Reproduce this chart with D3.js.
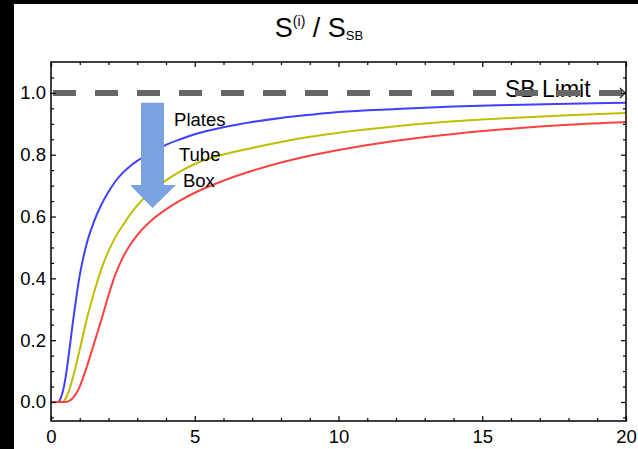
<!DOCTYPE html>
<html><head><meta charset="utf-8">
<script src="https://cdn.jsdelivr.net/npm/d3@7"></script>
<style>body{margin:0;background:#fff}svg{display:block}</style>
</head><body><script>
// ---- data ----
const xValues      = [0, 0.25, 0.3, 0.4, 0.5, 0.6, 0.75, 1, 1.25, 1.5, 1.75, 2, 2.25, 2.5, 2.75, 3, 3.5, 4, 4.5, 5, 6, 7, 8, 9, 10, 12, 14, 16, 18, 20];
const platesValues = [0, 0, 0.005, 0.03, 0.075, 0.14, 0.25, 0.41, 0.515, 0.585, 0.638, 0.68, 0.715, 0.742, 0.763, 0.78, 0.808, 0.832, 0.85, 0.866, 0.889, 0.906, 0.919, 0.929, 0.938, 0.948, 0.956, 0.961, 0.965, 0.968];
const tubeValues   = [0, 0, 0, 0, 0.01, 0.03, 0.075, 0.17, 0.27, 0.355, 0.43, 0.488, 0.535, 0.572, 0.606, 0.636, 0.683, 0.717, 0.746, 0.77, 0.801, 0.822, 0.841, 0.858, 0.871, 0.892, 0.908, 0.919, 0.928, 0.935];
const boxValues    = [0, 0, 0, 0, 0, 0.002, 0.012, 0.05, 0.115, 0.19, 0.265, 0.345, 0.415, 0.468, 0.508, 0.54, 0.588, 0.623, 0.652, 0.677, 0.716, 0.748, 0.775, 0.797, 0.815, 0.845, 0.867, 0.884, 0.897, 0.906];
const seriesNames = ["Plates", "Tube", "Box"];
const xTicks = [0, 5, 10, 15, 20];
const yTicks = [0, 0.2, 0.4, 0.6, 0.8, 1.0];
const limitValue = 1.0;
const limitLabel = "SB Limit";

const series = [
  {name: seriesNames[0], values: platesValues, color: "#4040ff"},
  {name: seriesNames[1], values: tubeValues,   color: "#bfbf00"},
  {name: seriesNames[2], values: boxValues,    color: "#ff4040"}
];

const W = 638, H = 449;
const FONT = "'Liberation Sans', Arial, Helvetica, sans-serif";
const svg = d3.select("body").append("svg").attr("width", W).attr("height", H)
  .style("font-family", FONT);

svg.append("rect").attr("width", W).attr("height", H).attr("fill", "#fff");
svg.append("rect").attr("x", 0).attr("y", 0).attr("width", 14).attr("height", H).attr("fill", "#000");
svg.append("rect").attr("x", 0).attr("y", 0).attr("width", W).attr("height", 4).attr("fill", "#000");

const x = d3.scaleLinear().domain([0, 20]).range([51, 626]);
const y = d3.scaleLinear().domain([-0.0615, 1.1]).range([421, 62]);

// clip
svg.append("clipPath").attr("id", "clip").append("rect")
  .attr("x", x(0)).attr("y", y(1.1)).attr("width", x(20) - x(0)).attr("height", y(-0.0615) - y(1.1));

// title
const title = svg.append("text").attr("x", 319).attr("y", 37).attr("text-anchor", "middle")
  .attr("font-size", 27).attr("fill", "#000");
title.append("tspan").text("S");
title.append("tspan").attr("font-size", 14).attr("dy", -11).text("(i)");
title.append("tspan").attr("dy", 11).text(" / S");
title.append("tspan").attr("font-size", 13).attr("dy", 3).text("SB");

// curves
const line = d3.line().x((d, i) => x(xValues[i])).y(d => y(d)).curve(d3.curveMonotoneX);
const cg = svg.append("g").attr("clip-path", "url(#clip)");
series.forEach(s => {
  cg.append("path").attr("d", line(s.values)).attr("fill", "none")
    .attr("stroke", s.color).attr("stroke-width", 2);
});

// SB limit label (dash drawn over it)
svg.append("text").attr("x", x(15.79)).attr("y", y(0.987)).attr("font-size", 23)
  .attr("fill", "#000").text(limitLabel);

// limit dashed line
svg.append("line").attr("x1", x(0) + 2).attr("x2", x(20) - 4)
  .attr("y1", y(limitValue)).attr("y2", y(limitValue))
  .attr("stroke", "#666").attr("stroke-width", 6).attr("stroke-dasharray", "23,19");
svg.append("path")
  .attr("d", `M${x(20) - 6},${y(limitValue) - 5}L${x(20) - 1},${y(limitValue)}L${x(20) - 6},${y(limitValue) + 5}`)
  .attr("fill", "none").attr("stroke", "#333").attr("stroke-width", 1.5);

// blue arrow (annotation)
const ax0 = 3.13, ax1 = 3.93, ahx0 = 2.75, ahx1 = 4.35, atx = 3.53;
const ay0 = 0.968, ay1 = 0.702, aty = 0.628;
svg.append("path")
  .attr("d", `M${x(ax0)},${y(ay0)}L${x(ax1)},${y(ay0)}L${x(ax1)},${y(ay1)}L${x(ahx1)},${y(ay1)}L${x(atx)},${y(aty)}L${x(ahx0)},${y(ay1)}L${x(ax0)},${y(ay1)}Z`)
  .attr("fill", "#7ba2e0");

// series labels
const labelPos = [[4.28, 0.893], [4.45, 0.78], [4.59, 0.696]];
series.forEach((s, i) => {
  svg.append("text").attr("x", x(labelPos[i][0])).attr("y", y(labelPos[i][1]))
    .attr("font-size", 18.5).attr("fill", "#000").text(s.name);
});

// frame
svg.append("rect").attr("x", x(0)).attr("y", y(1.1)).attr("width", x(20) - x(0))
  .attr("height", y(-0.0615) - y(1.1)).attr("fill", "none").attr("stroke", "#000").attr("stroke-width", 1.5);

// ticks
const xMinor = d3.range(0, 21, 1).filter(v => v % 5 !== 0);
const yMinor = d3.range(-0.05, 1.1, 0.05).map(v => +v.toFixed(2)).filter(v => Math.abs(v * 5 - Math.round(v * 5)) > 1e-6);

function styleAxis(sel) {
  sel.select(".domain").remove();
  sel.selectAll("line").attr("stroke", "#000").attr("stroke-width", 1.2);
  sel.selectAll("text").attr("font-size", 18.5).attr("fill", "#000").style("font-family", FONT);
}
// bottom
svg.append("g").attr("transform", `translate(0,${y(-0.0615)})`)
  .call(d3.axisBottom(x).tickValues(xTicks).tickSizeInner(-5).tickSizeOuter(0).tickPadding(9).tickFormat(d3.format("d")))
  .call(styleAxis);
svg.append("g").attr("transform", `translate(0,${y(-0.0615)})`)
  .call(d3.axisBottom(x).tickValues(xMinor).tickSize(-3).tickFormat(""))
  .call(styleAxis);
// top
svg.append("g").attr("transform", `translate(0,${y(1.1)})`)
  .call(d3.axisTop(x).tickValues(xTicks).tickSize(-5).tickFormat(""))
  .call(styleAxis);
svg.append("g").attr("transform", `translate(0,${y(1.1)})`)
  .call(d3.axisTop(x).tickValues(xMinor).tickSize(-3).tickFormat(""))
  .call(styleAxis);
// left
svg.append("g").attr("transform", `translate(${x(0)},0)`)
  .call(d3.axisLeft(y).tickValues(yTicks).tickSizeInner(-5).tickSizeOuter(0).tickPadding(5).tickFormat(d3.format(".1f")))
  .call(styleAxis);
svg.append("g").attr("transform", `translate(${x(0)},0)`)
  .call(d3.axisLeft(y).tickValues(yMinor).tickSize(-3).tickFormat(""))
  .call(styleAxis);
// right
svg.append("g").attr("transform", `translate(${x(20)},0)`)
  .call(d3.axisRight(y).tickValues(yTicks).tickSize(-5).tickFormat(""))
  .call(styleAxis);
svg.append("g").attr("transform", `translate(${x(20)},0)`)
  .call(d3.axisRight(y).tickValues(yMinor).tickSize(-3).tickFormat(""))
  .call(styleAxis);
</script></body></html>
